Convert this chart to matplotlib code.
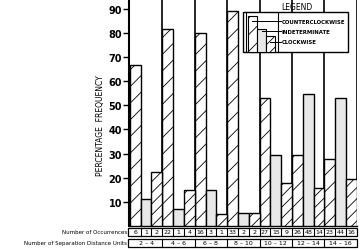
import matplotlib
matplotlib.use("Agg")
import matplotlib.pyplot as plt
import numpy as np
from matplotlib.transforms import blended_transform_factory
from matplotlib.patches import Rectangle

groups = ["2 – 4", "4 – 6", "6 – 8", "8 – 10", "10 – 12", "12 – 14", "14 – 16"]
counterclockwise = [66.7, 81.5, 80.0, 89.2, 52.9, 29.5, 27.7]
indeterminate = [11.1, 7.0, 15.0, 5.4, 29.4, 54.5, 53.0]
clockwise = [22.2, 14.8, 5.0, 5.4, 17.6, 15.9, 19.3]
occ_ccw = [6, 22, 16, 33, 27, 26, 23]
occ_ind = [1, 1, 3, 2, 15, 48, 44]
occ_cw = [2, 4, 1, 2, 9, 14, 16]
yticks = [10, 20, 30, 40, 50, 60, 70, 80, 90]

plt.rcParams['hatch.linewidth'] = 0.6
W, H = 363, 251
fig = plt.figure(figsize=(W / 100, H / 100), dpi=100)
ax = fig.add_axes([129 / W, (251 - 227) / H, 228 / W, 227 / H])

n = len(groups)
x_ccw = np.arange(n) * 3
x_ind = x_ccw + 1
x_cw = x_ccw + 2

lw = 1.0
STIP = '#e8e8e8'
ax.bar(x_ccw, counterclockwise, width=1, align='edge', facecolor='white',
       edgecolor='black', hatch='//', linewidth=lw, zorder=3)
ax.bar(x_ind, indeterminate, width=1, align='edge', facecolor=STIP,
       edgecolor='black', linewidth=lw, zorder=3)
ax.bar(x_cw, clockwise, width=1, align='edge', facecolor='white',
       edgecolor='black', hatch='///', linewidth=lw, zorder=3)

# group separators
for g in range(1, n + 1):
    ax.axvline(3 * g, color='black', linewidth=1.2, zorder=2)

ax.set_xlim(-0.08, 3 * n + 0.02)
ax.set_ylim(0, 94)
ax.set_xticks([])
ax.set_yticks(yticks)
ax.set_yticklabels([str(t) for t in yticks], fontsize=7, fontweight='bold')
ax.tick_params(axis='y', length=4, width=1.0, direction='out', pad=1)
for s in ['top', 'right']:
    ax.spines[s].set_visible(False)
ax.spines['left'].set_linewidth(1.5)
ax.spines['bottom'].set_linewidth(1.0)

fig.text(100 / W, (251 - 126) / H, "PERCENTAGE  FREQUENCY", rotation=90,
         fontsize=5.5, ha='center', va='center')

# legend (axes fraction coords)
def px(xp, yp):
    return ((xp - 129) / 228, (227 - yp) / 227)

x0, y0 = px(243, 53)
x1, y1 = px(348, 13)
ax.add_patch(Rectangle((x0, y0), x1 - x0, y1 - y0, transform=ax.transAxes,
                       facecolor='white', edgecolor='black', linewidth=1.0,
                       zorder=10, clip_on=False))
xa, _ = px(245.5, 0)
ax.plot([xa, xa], [y0, y1], transform=ax.transAxes, color='black', lw=0.8, zorder=11)
xb, _ = px(278, 0)
ax.plot([xb, xb], [y0, y1], transform=ax.transAxes, color='black', lw=0.8, zorder=11)
# mini bars
mini = [(248, 257, 17, '//', 'white'), (257, 266, 30, None, STIP), (266, 275, 37, '///', 'white')]
for (xl, xr, yt, hatch, fc) in mini:
    a, b = px(xl, 53)
    c, d = px(xr, yt)
    ax.add_patch(Rectangle((a, b), c - a, d - b, transform=ax.transAxes,
                           facecolor=fc, edgecolor='black', hatch=hatch,
                           linewidth=0.8, zorder=12))
labels = [("COUNTERCLOCKWISE", 22, 252), ("INDETERMINATE", 32, 262), ("CLOCKWISE", 43, 270)]
for (lab, yp, xs) in labels:
    a, b = px(xs, yp)
    c, _ = px(281, yp)
    ax.plot([a, c], [b, b], transform=ax.transAxes, color='black', lw=0.7, zorder=13)
    t, _ = px(282, yp)
    ax.text(t, b, lab, transform=ax.transAxes, fontsize=3.9, fontweight='bold',
            ha='left', va='center', zorder=13)
lx, ly = px(297, 8)
ax.text(lx, ly, "LEGEND", transform=ax.transAxes, fontsize=5.5, ha='center',
        va='center', zorder=13)

# table below
tr = blended_transform_factory(ax.transData, fig.transFigure)
def fy(yp):
    return (251 - yp) / H

r1t, r1b = fy(228.5), fy(237)
r2t, r2b = fy(239.5), fy(247.5)
xl, xr = -0.15, 3 * n
for (t, b) in [(r1t, r1b), (r2t, r2b)]:
    ax.add_patch(Rectangle((xl, b), xr - xl, t - b, transform=tr, facecolor='none',
                           edgecolor='black', linewidth=0.9, clip_on=False))
occ_all = []
for i in range(n):
    occ_all += [occ_ccw[i], occ_ind[i], occ_cw[i]]
for k, v in enumerate(occ_all):
    if k > 0:
        ax.plot([k, k], [r1b, r1t], transform=tr, color='black', lw=0.8, clip_on=False)
    ax.text(k + 0.5, (r1t + r1b) / 2, str(v), transform=tr, fontsize=4.5,
            ha='center', va='center', clip_on=False)
for g in range(n):
    if g > 0:
        ax.plot([3 * g, 3 * g], [r2b, r2t], transform=tr, color='black', lw=0.8, clip_on=False)
    ax.text(3 * g + 1.5, (r2t + r2b) / 2, groups[g], transform=tr, fontsize=4.5,
            ha='center', va='center', clip_on=False)

fig.text(127 / W, fy(232.5), "Number of Occurrences", fontsize=4, ha='right', va='center')
fig.text(127 / W, fy(243.5), "Number of Separation Distance Units", fontsize=4, ha='right', va='center')

fig.savefig("out.png", dpi=100)
